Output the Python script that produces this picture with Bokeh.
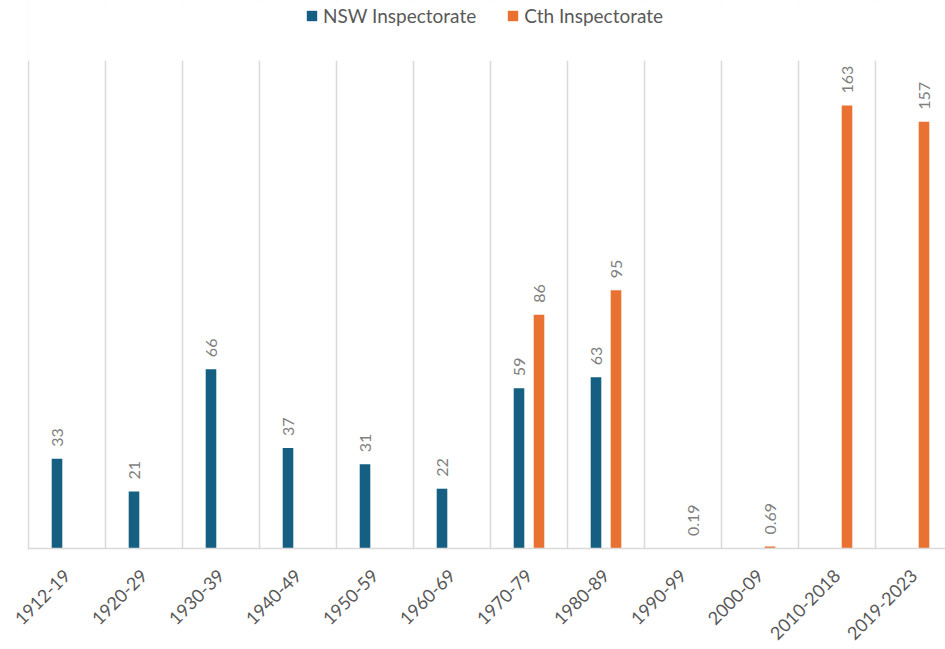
import math
from bokeh.plotting import figure
from bokeh.models import ColumnDataSource, Range1d, FixedTicker, Legend, LegendItem, BoxAnnotation
from bokeh.transform import dodge
from bokeh.embed import file_html
from bokeh.resources import INLINE

categories = ["1912-19", "1920-29", "1930-39", "1940-49", "1950-59", "1960-69",
              "1970-79", "1980-89", "1990-99", "2000-09", "2010-2018", "2019-2023"]
nsw = [33, 21, 66, 37, 31, 22, 59, 63, None, None, None, None]
cth = [None, None, None, None, None, None, 86, 95, 0.19, 0.69, 163, 157]

NSW_COLOR = "#156082"
CTH_COLOR = "#E97132"
LABEL_FONT = "Lato"

Y_MAX = 179.5          # top of the value axis (grid lines end here)
PX_PER_UNIT = 443 / 163.0

def fmt(v):
    return str(int(v)) if float(v).is_integer() else ("%g" % v)

pos = [i + 0.5 for i in range(len(categories))]

def make_src(vals):
    xs, ys, labs = [], [], []
    for x, v in zip(pos, vals):
        if v is not None:
            xs.append(x); ys.append(v); labs.append(fmt(v))
    return ColumnDataSource(dict(x=xs, top=ys, label=labs))

src_nsw = make_src(nsw)
src_cth = make_src(cth)

p = figure(width=945, height=649, output_backend="svg", toolbar_location=None,
           x_range=Range1d(-1 / 77.0, 917 / 77.0), y_range=Range1d(0, 548 / PX_PER_UNIT),
           min_border_left=27, min_border_right=0, min_border_bottom=101, min_border_top=0)

# hide grid lines above the value-axis top
p.add_layout(BoxAnnotation(bottom=Y_MAX, fill_color="white", fill_alpha=1,
                           line_color=None, level="underlay"))

off = 10 / 77.0
bw = 10.6 / 77.0
r1 = p.vbar(x=dodge("x", -off, range=p.x_range), top="top", width=bw, source=src_nsw,
            fill_color=NSW_COLOR, line_color=None)
r2 = p.vbar(x=dodge("x", off, range=p.x_range), top="top", width=bw, source=src_cth,
            fill_color=CTH_COLOR, line_color=None)

for src, o in ((src_nsw, -off), (src_cth, off)):
    p.text(x=dodge("x", o, range=p.x_range), y="top", text="label", source=src,
           angle=math.pi / 2, text_align="left", text_baseline="middle",
           y_offset=-12, text_color="#7f7f7f", text_font_size="16px",
           text_font={"value": LABEL_FONT})

p.yaxis.visible = False
p.ygrid.visible = False
p.xgrid.ticker = FixedTicker(ticks=list(range(13)))
p.xgrid.grid_line_color = "#d9d9d9"
p.xgrid.grid_line_width = 1.5

ax = p.xaxis[0]
ax.ticker = FixedTicker(ticks=pos)
ax.major_label_overrides = {x: c for x, c in zip(pos, categories)}
ax.major_label_orientation = math.pi / 4
ax.major_label_text_font = LABEL_FONT
ax.major_label_text_font_size = "18px"
ax.major_label_text_color = "#595959"
ax.major_label_standoff = 18
ax.axis_line_color = "#d9d9d9"
ax.axis_line_width = 1.5
ax.major_tick_line_color = None
ax.minor_tick_line_color = None

p.outline_line_color = None

legend = Legend(items=[LegendItem(label="NSW Inspectorate", renderers=[r1]),
                       LegendItem(label="Cth Inspectorate", renderers=[r2])],
                orientation="horizontal", location=(278, 521),
                label_text_font=LABEL_FONT, label_text_font_size="19px",
                label_text_color="#595959", glyph_width=13, glyph_height=13,
                label_standoff=5, spacing=30, border_line_color=None,
                background_fill_alpha=0, padding=4, margin=0)
p.add_layout(legend, "center")

open("out.html", "w").write(file_html(p, INLINE))
